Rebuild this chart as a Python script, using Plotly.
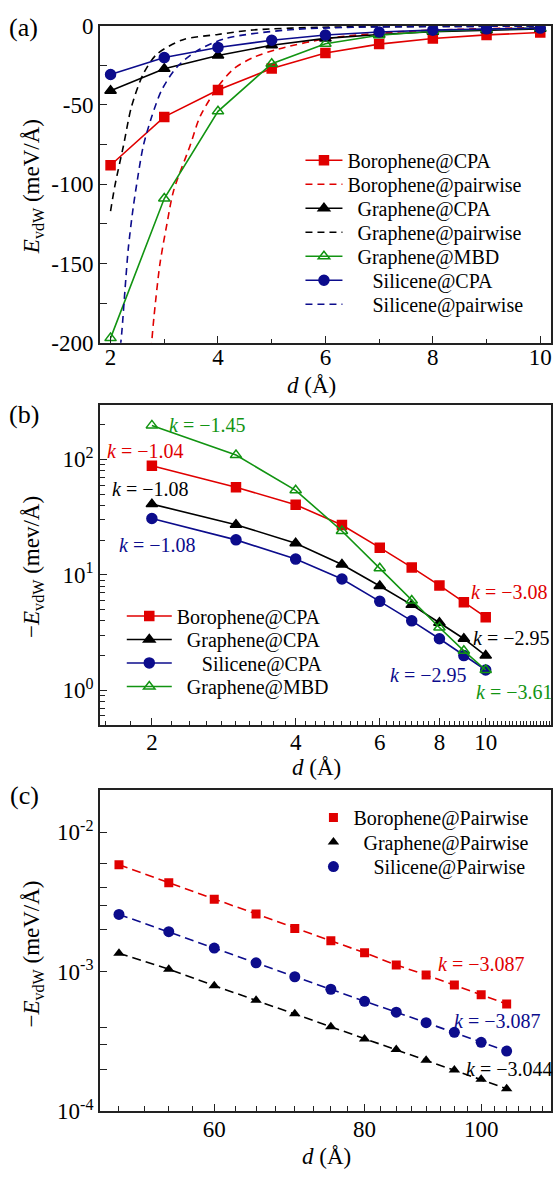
import numpy as np
import plotly.graph_objects as go

FONT = "Liberation Serif, Times New Roman, Times, DejaVu Serif, serif"
RED = "#e00000"
BLACK = "#000000"
BLUE = "#0c0c8c"
GREEN = "#129412"
AXC = "#222222"

W, H = 556, 1182

# ---- binding energy per length (meV/Å) vs separation d (Å): CPA and MBD ----
d_cpa = [2, 3, 4, 5, 6, 7, 8, 9, 10]
boro_cpa = [-88.0, -57.5, -40.5, -27.0, -17.2, -11.6, -8.1, -5.8, -4.3]
graph_cpa = [-41.0, -27.2, -18.8, -12.3, -8.0, -5.5, -3.85, -2.8, -2.0]
sili_cpa = [-30.8, -20.1, -13.7, -9.2, -5.9, -4.0, -2.8, -2.0, -1.5]
graph_mbd = [-197.0, -109.0, -54.0, -24.0, -11.4, -6.0, -3.5, -2.2, -1.5]

# ---- pairwise curves (meV/Å) ----
d_boro_pw = [2.74, 2.77, 2.81, 2.92, 3.05, 3.17, 3.48, 3.67, 4.04, 4.3, 4.66, 5.09, 6.08, 7.44, 8.5, 10.0]
boro_pw = [-212, -198, -183, -150, -125, -104.5, -75.7, -57, -36.6, -27, -20, -15, -7.8, -3.7, -2.3, -1.2]
d_graph_pw = [2.0, 2.08, 2.24, 2.39, 2.61, 2.86, 3.35, 4.0, 4.65, 5.9, 8.0, 10.0]
graph_pw = [-117, -101, -75.7, -51, -30.4, -18, -8.8, -5.5, -2.7, -1.0, -0.5, -0.3]
d_sili_pw = [2.16, 2.21, 2.27, 2.33, 2.42, 2.50, 2.61, 2.77, 2.95, 3.23, 3.6, 4.15, 5.28, 6.5, 8.0, 10.0]
sili_pw = [-210, -193, -166, -140.5, -115, -97, -75.7, -57, -40.7, -26.3, -16, -8, -2.7, -1.0, -0.5, -0.3]

# ---- long-range pairwise (meV/Å) ----
d_far = [50, 55, 60, 65, 70, 75, 80, 85, 90, 95, 100, 105]
boro_far = [5.86e-3, 4.35e-3, 3.32e-3, 2.60e-3, 2.05e-3, 1.67e-3, 1.37e-3, 1.12e-3, 9.48e-4, 8.05e-4, 6.85e-4, 5.89e-4]
graph_far = [1.36e-3, 1.045e-3, 7.96e-4, 6.25e-4, 5.00e-4, 4.03e-4, 3.30e-4, 2.77e-4, 2.32e-4, 1.98e-4, 1.70e-4, 1.45e-4]
sili_far = [2.58e-3, 1.94e-3, 1.48e-3, 1.16e-3, 9.22e-4, 7.50e-4, 6.15e-4, 5.14e-4, 4.32e-4, 3.68e-4, 3.12e-4, 2.70e-4]

# fitted slopes
k_b = {"boro_lo": "−1.04", "graph_lo": "−1.08", "sili_lo": "−1.08", "mbd_lo": "−1.45",
       "boro_hi": "−3.08", "graph_hi": "−2.95", "sili_hi": "−2.95", "mbd_hi": "−3.61"}
k_c = {"boro": "−3.087", "sili": "−3.087", "graph": "−3.044"}


def px(x):
    return x / W


def py(y):
    return 1 - y / H


NB = "\u00a0"
DASH = "7px,5px"

fig = go.Figure()
legend_boxes = {}   # legend id -> (left px, row centre px, symbol width)
_leg_count = [0]


def new_legend(left, yc, itemwidth):
    _leg_count[0] += 1
    n = _leg_count[0]
    key = "legend" if n == 1 else f"legend{n}"
    legend_boxes[key] = (left, yc, itemwidth)
    return key


MSIZE = {"square": 9, "triangle-up": 10, "triangle-up-open": 10, "circle": 10}

# ---------------- panel (a) ----------------
a_rows = [151.5, 176, 200.5, 225, 249.5, 274, 298.5]


def add_a(row, x, y, name, color, mode, symbol=None, dash=None, spline=False):
    line = dict(color=color, width=1.6)
    if dash:
        line["dash"] = dash
    if spline:
        line["shape"] = "spline"
        line["smoothing"] = 0.8
    kw = dict(x=x, y=y, name=name, mode=mode, line=line, xaxis="x", yaxis="y",
              legend=new_legend(301, a_rows[row], 37))
    if symbol:
        kw["marker"] = dict(symbol=symbol, size=MSIZE[symbol],
                            color=color, line=dict(color=color, width=1.5))
    fig.add_trace(go.Scatter(**kw))


add_a(0, d_cpa, boro_cpa, "Borophene@CPA", RED, "lines+markers", "square")
add_a(1, d_boro_pw, boro_pw, "Borophene@pairwise", RED, "lines", dash=DASH, spline=True)
add_a(2, d_cpa, graph_cpa, NB * 2 + "Graphene@CPA", BLACK, "lines+markers", "triangle-up")
add_a(3, d_graph_pw, graph_pw, NB * 2 + "Graphene@pairwise", BLACK, "lines", dash=DASH, spline=True)
add_a(4, d_cpa, graph_mbd, NB * 2 + "Graphene@MBD", GREEN, "lines+markers", "triangle-up-open")
add_a(5, d_cpa, sili_cpa, NB * 5 + "Silicene@CPA", BLUE, "lines+markers", "circle")
add_a(6, d_sili_pw, sili_pw, NB * 5 + "Silicene@pairwise", BLUE, "lines", dash=DASH, spline=True)

# ---------------- panel (b) ----------------
b_rows = [617, 641, 665, 689]
for row, (vals, name, color, symbol) in enumerate([
    (boro_cpa, "Borophene@CPA", RED, "square"),
    (graph_cpa, NB * 2 + "Graphene@CPA", BLACK, "triangle-up"),
    (sili_cpa, NB * 5 + "Silicene@CPA", BLUE, "circle"),
    (graph_mbd, NB * 2 + "Graphene@MBD", GREEN, "triangle-up-open"),
]):
    fig.add_trace(go.Scatter(
        x=d_cpa, y=[-v for v in vals], name=name, mode="lines+markers",
        line=dict(color=color, width=1.6),
        marker=dict(symbol=symbol, size=MSIZE[symbol], color=color,
                    line=dict(color=color, width=1.5)),
        xaxis="x2", yaxis="y2", legend=new_legend(122, b_rows[row], 45)))

# ---------------- panel (c) ----------------
c_rows = [823, 848, 873]
for row, (vals, name, color, symbol, size) in enumerate([
    (boro_far, "Borophene@Pairwise", RED, "square", 9),
    (graph_far, NB * 2 + "Graphene@Pairwise", BLACK, "triangle-up", 10),
    (sili_far, NB * 4 + "Silicene@Pairwise", BLUE, "circle", 11),
]):
    fig.add_trace(go.Scatter(
        x=d_far, y=vals, mode="lines", showlegend=False,
        line=dict(color=color, width=1.6, dash="9px,5px"),
        xaxis="x3", yaxis="y3"))
    fig.add_trace(go.Scatter(
        x=d_far, y=vals, name=name, mode="markers",
        marker=dict(symbol=symbol, size=size, color=color),
        xaxis="x3", yaxis="y3", legend=new_legend(314, c_rows[row], 30)))

# ---------------- axes ----------------
tickfont = dict(family=FONT, size=23, color="black")
common = dict(showline=True, linecolor=AXC, linewidth=1.5, mirror=True, ticks="inside",
              tickcolor=AXC, tickwidth=1.3, ticklen=7, tickfont=tickfont,
              showgrid=False, zeroline=False)


def minor(vals, ln=4):
    return dict(tickmode="array", tickvals=list(vals), ticks="inside", ticklen=ln,
                tickcolor=AXC, tickwidth=1.2, showgrid=False)


xdom = [px(100), px(552)]
XSTAND = -4

# (a)
fig.update_layout(
    xaxis=dict(domain=xdom, range=[1.8, 10.2], anchor="y", tickmode="array",
               tickvals=[2, 4, 6, 8, 10], minor=minor([3, 5, 7, 9]),
               ticklabelstandoff=XSTAND - 3, **common),
    yaxis=dict(domain=[py(338), py(14)], range=[-200, 0], anchor="x", tickmode="array",
               tickvals=[-200, -150, -100, -50, 0],
               ticktext=["-200", "-150", "-100", "-50", "0"],
               minor=minor([-175, -125, -75, -25], 7), **common),
)

# (b)
xb_minor = [round(v, 1) for v in np.arange(1.6, 13.7, 0.2) if round(v, 1) not in (2.0, 4.0, 6.0, 8.0, 10.0)]
yb_minor = [m * 10.0 ** e for e in (-1, 0, 1, 2) for m in range(2, 10)]
fig.update_layout(
    xaxis2=dict(domain=xdom, type="log", range=[np.log10(1.556), np.log10(13.7)], anchor="y2",
                tickmode="array", tickvals=[2, 4, 6, 8, 10], ticktext=["2", "4", "6", "8", "10"],
                minor=minor(xb_minor, 4), ticklabelstandoff=XSTAND, **common),
    yaxis2=dict(domain=[py(728), py(402)], type="log", range=[np.log10(0.505), np.log10(293)],
                anchor="x2", tickmode="array", tickvals=[1, 10, 100],
                ticktext=["10<sup>0</sup>", "10<sup>1</sup>", "10<sup>2</sup>"],
                minor=minor(yb_minor, 5), **common),
)

# (c)
xc_minor = [v for v in np.arange(47.5, 115, 2.5) if v not in (60, 80, 100)]
yc_minor = [2e-4, 3e-4, 4e-4, 2e-3, 3e-3, 4e-3, 6e-3]
fig.update_layout(
    xaxis3=dict(domain=xdom, type="log", range=[np.log10(48.2), np.log10(114.3)], anchor="y3",
                tickmode="array", tickvals=[60, 80, 100], ticktext=["60", "80", "100"],
                minor=minor(xc_minor, 5), ticklabelstandoff=XSTAND, **common),
    yaxis3=dict(domain=[py(1123), py(795)], type="log", range=[-4.0, -1.697], anchor="x3",
                tickmode="array", tickvals=[1e-4, 1e-3, 1e-2],
                ticktext=["10<sup>-4</sup>", "10<sup>-3</sup>", "10<sup>-2</sup>"],
                minor=minor(yc_minor, 7), **common),
)

# ---------------- legends: one entry per box ----------------
legfont = dict(family=FONT, size=20, color="black")
for key, (left, yc, iw) in legend_boxes.items():
    fig.update_layout({key: dict(x=px(left), y=py(yc), xanchor="left", yanchor="middle",
                                 font=legfont, bgcolor="rgba(0,0,0,0)", borderwidth=0,
                                 itemwidth=iw, tracegroupgap=0)})

# ---------------- text ----------------
ann = []


def text(x, y, s, size=23, color="black", angle=0):
    ann.append(dict(x=px(x), y=py(y), xref="paper", yref="paper", text=s, showarrow=False,
                    font=dict(family=FONT, size=size, color=color), textangle=angle,
                    xanchor="center", yanchor="middle"))


text(24, 16, "(a)", 26)
text(24, 411, "(b)", 26)
text(25, 800, "(c)", 26)

text(33, 178, "<i>E</i><sub>vdW</sub> (meV/Å)", angle=-90)
text(312, 382, "<i>d</i> (Å)")
text(33, 567, "−<i>E</i><sub>vdW</sub> (mev/Å)", angle=-90)
text(317, 772, "<i>d</i> (Å)")
text(33, 962, "−<i>E</i><sub>vdW</sub> (meV/Å)", angle=-90)
text(327, 1169, "<i>d</i> (Å)")

K = "<i>k</i> = "
text(207.5, 422, K + k_b["mbd_lo"], 20, GREEN)
text(145.5, 448, K + k_b["boro_lo"], 20, RED)
text(150.5, 487, K + k_b["graph_lo"], 20, BLACK)
text(157.5, 545, K + k_b["sili_lo"], 20, BLUE)
text(509.5, 593, K + k_b["boro_hi"], 20, RED)
text(511.5, 640, K + k_b["graph_hi"], 20, BLACK)
text(428.5, 677, K + k_b["sili_hi"], 20, BLUE)
text(514.5, 695, K + k_b["mbd_hi"], 20, GREEN)

text(481.5, 973, K + k_c["boro"], 20, RED)
text(497.5, 1031, K + k_c["sili"], 20, BLUE)
text(510, 1080, K + k_c["graph"], 20, BLACK)

fig.update_layout(
    annotations=ann,
    width=W, height=H,
    margin=dict(l=0, r=0, t=0, b=0),
    paper_bgcolor="white", plot_bgcolor="white",
    font=dict(family=FONT, color="black"),
)

fig.write_html("out.html")
